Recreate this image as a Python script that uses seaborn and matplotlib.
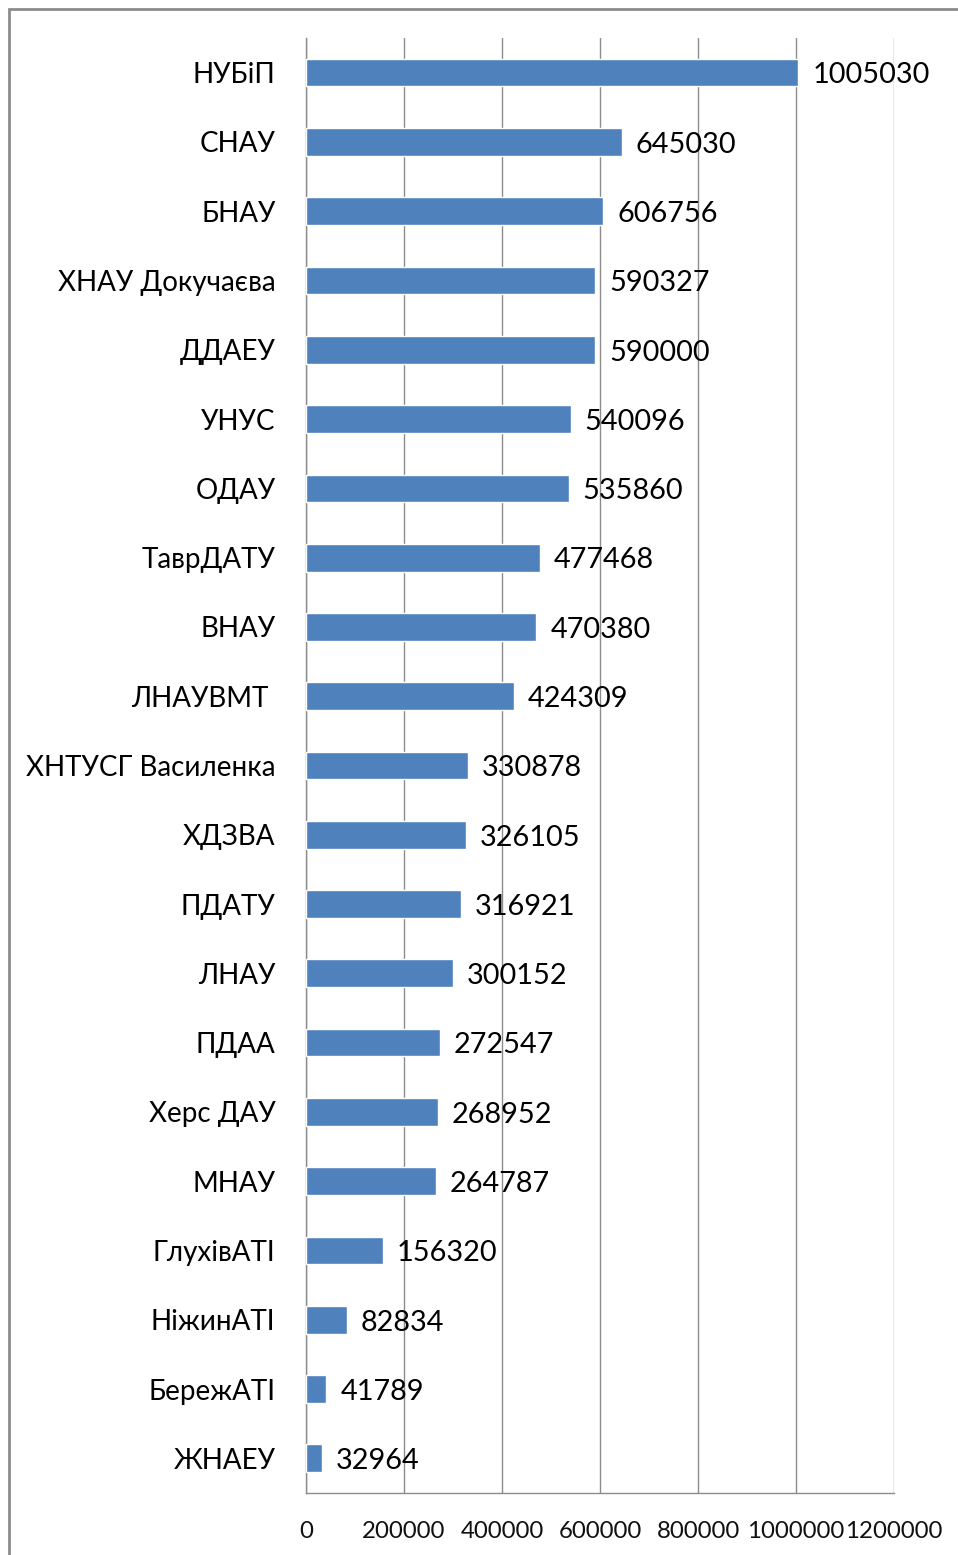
import numpy as np
import pandas as pd
import matplotlib
matplotlib.use("Agg")
import matplotlib.pyplot as plt
import seaborn as sns
from matplotlib.patches import Rectangle

# ── Data ────────────────────────────────────────────────────
universities = [
    "НУБіП", "СНАУ", "БНАУ", "ХНАУ Докучаєва", "ДДАЕУ", "УНУС", "ОДАУ",
    "ТаврДАТУ", "ВНАУ", "ЛНАУВМТ ", "ХНТУСГ Василенка", "ХДЗВА", "ПДАТУ",
    "ЛНАУ", "ПДАА", "Херс ДАУ", "МНАУ", "ГлухівАТІ", "НіжинАТІ", "БережАТІ",
    "ЖНАЕУ",
]
amounts = [
    1005030, 645030, 606756, 590327, 590000, 540096, 535860,
    477468, 470380, 424309, 330878, 326105, 316921,
    300152, 272547, 268952, 264787, 156320, 82834, 41789,
    32964,
]
x_ticks = [0, 200000, 400000, 600000, 800000, 1000000, 1200000]

df = pd.DataFrame({"uni": universities, "amount": amounts})

# ── Style ───────────────────────────────────────────────────
sns.set_style("white")
plt.rcParams["font.family"] = ["Lato", "DejaVu Sans"]
bar_color = "#4F81BD"
grid_color = "#8C8C8C"

fig = plt.figure(figsize=(9.58, 15.55), dpi=100)
ax = fig.add_axes([306 / 958, 1 - 1493 / 1555, 588 / 958, 1455 / 1555])

sns.barplot(data=df, x="amount", y="uni", orient="h", color=bar_color,
            width=0.4, saturation=1, ax=ax, zorder=3)

ax.set_xlim(0, 1200000)
ax.set_ylim(len(universities) - 0.5, -0.5)
ax.set_xticks(x_ticks)
ax.set_xticklabels([str(t) for t in x_ticks], fontsize=17.3, color="#111111")
ax.tick_params(axis="x", length=8, color=grid_color, pad=12)
ax.tick_params(axis="y", which="major", length=0, pad=22, labelsize=20,
               labelcolor="#000000")
ax.set_yticks(np.arange(len(universities) + 1) - 0.5, minor=True)
ax.tick_params(axis="y", which="minor", length=8, color=grid_color)
ax.set_xlabel("")
ax.set_ylabel("")

ax.grid(axis="x", color=grid_color, linewidth=1, zorder=0)
for side in ["top", "right"]:
    ax.spines[side].set_visible(False)
for side in ["left", "bottom"]:
    ax.spines[side].set_color(grid_color)
    ax.spines[side].set_linewidth(1)

# value labels
for i, v in enumerate(amounts):
    ax.annotate(str(v), (v, i), xytext=(10, -2), textcoords="offset points",
                va="center", ha="left", fontsize=20.8, color="#000000", zorder=4)

# outer frame
fig.patches.append(Rectangle((9 / 958, -0.01), 1.0, 1 - 9 / 1555 + 0.01,
                             transform=fig.transFigure, fill=False,
                             edgecolor="#8C8C8C", linewidth=2))

fig.savefig("out.png", dpi=100)
plt.close(fig)
